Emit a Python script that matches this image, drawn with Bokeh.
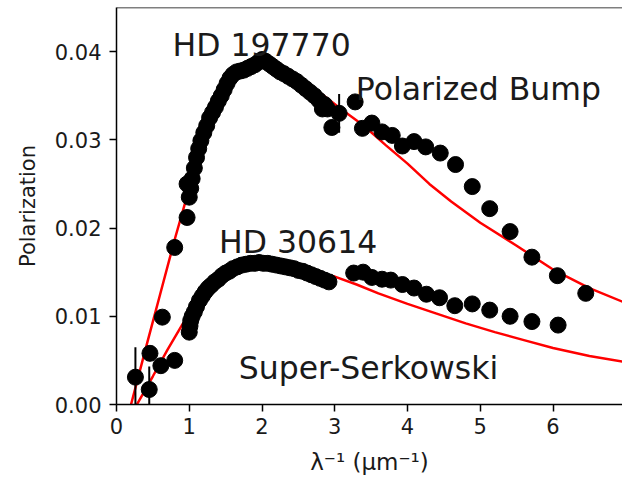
from bokeh.plotting import figure
from bokeh.models import Range1d, FixedTicker, NumeralTickFormatter, Span
from bokeh.core.properties import value
from bokeh.embed import file_html
from bokeh.resources import INLINE

# ---- data ----
# HD 197770 (upper star)
hd197_x = [0.26, 0.46, 0.63, 0.80, 0.97, 0.97, 1.00, 1.02, 1.04, 1.07, 1.10, 1.13, 1.16, 1.20, 1.24,
           1.28, 1.32, 1.36, 1.40, 1.44, 1.48, 1.52, 1.56, 1.60, 1.65, 1.70, 1.75, 1.80, 1.85,
           1.90, 1.95, 2.00, 2.05, 2.10, 2.15, 2.20, 2.25, 2.30, 2.36, 2.42, 2.48, 2.54, 2.60,
           2.66, 2.72, 2.78, 2.83, 2.86, 2.90, 2.96, 3.06, 3.28, 3.38, 3.51, 3.65, 3.79, 3.93,
           4.09, 4.25, 4.45, 4.66, 4.89, 5.13, 5.41, 5.71, 6.06, 6.45]
hd197_y = [0.0031, 0.0058, 0.0099, 0.0178, 0.0212, 0.0250, 0.0235, 0.0245, 0.0256, 0.0268, 0.0280,
           0.0290, 0.0299, 0.0308, 0.0316, 0.0325, 0.0331, 0.0337, 0.0344, 0.0350, 0.0357, 0.0364,
           0.0370, 0.0374, 0.0377, 0.0378, 0.0379, 0.0381, 0.0383, 0.0385, 0.0388, 0.0391, 0.0389,
           0.0386, 0.0383, 0.0380, 0.0377, 0.0375, 0.0372, 0.0369, 0.0366, 0.0362, 0.0358, 0.0354,
           0.0350, 0.0345, 0.0335, 0.0340, 0.0335, 0.0314, 0.0330, 0.0343, 0.0313, 0.0319, 0.0309,
           0.0305, 0.0293, 0.0298, 0.0292, 0.0285, 0.0272, 0.0247, 0.0222, 0.0196, 0.0167, 0.0146,
           0.0126]

# HD 30614 (lower star)
hd306_x = [0.45, 0.61, 0.80, 1.00, 1.01, 1.02, 1.04, 1.07, 1.10, 1.14, 1.18, 1.22, 1.26, 1.30, 1.35,
           1.40, 1.45, 1.50, 1.55, 1.60, 1.66, 1.72, 1.78, 1.84, 1.90, 1.96, 2.02, 2.08, 2.14,
           2.20, 2.26, 2.32, 2.38, 2.44, 2.50, 2.56, 2.62, 2.68, 2.74, 2.80, 2.86, 2.92, 3.26,
           3.39, 3.51, 3.65, 3.77, 3.93, 4.09, 4.26, 4.44, 4.65, 4.89, 5.13, 5.41, 5.71, 6.07]
hd306_y = [0.0017, 0.0044, 0.0050, 0.0082, 0.0089, 0.0095, 0.0100, 0.0105, 0.0111, 0.0118, 0.0123,
           0.0128, 0.0132, 0.0135, 0.0139, 0.0142, 0.0146, 0.0149, 0.0151, 0.0154, 0.0156, 0.0158,
           0.0159, 0.0160, 0.0160, 0.0161, 0.0160, 0.0160, 0.0159, 0.0158, 0.0157, 0.0156, 0.0155,
           0.0154, 0.0152, 0.0151, 0.0149, 0.0147, 0.0145, 0.0143, 0.0141, 0.0139, 0.0149, 0.0150,
           0.0144, 0.0142, 0.0141, 0.0136, 0.0132, 0.0125, 0.0121, 0.0112, 0.0114, 0.0107, 0.0100,
           0.0094, 0.0090]

# error bars (x, y, +/- err)
err_x = [0.26, 0.45, 3.06]
err_y = [0.0031, 0.0017, 0.0330]
err_e = [0.0034, 0.0026, 0.0022]

# model curves
model1_x = [0.2, 0.4, 0.6, 0.8, 1.0, 1.2, 1.4, 1.6, 1.8, 2.0, 2.2, 2.5, 2.8, 3.1, 3.4, 3.7, 4.0,
            4.3, 4.6, 5.0, 5.5, 6.0, 6.5, 7.0]
model1_y = [0.0, 0.0063, 0.0125, 0.0187, 0.0245, 0.0305, 0.0345, 0.0372, 0.0386, 0.0390, 0.0387,
            0.0373, 0.0353, 0.0334, 0.0316, 0.0294, 0.0273, 0.0250, 0.0230, 0.0206, 0.0180, 0.0153,
            0.0132, 0.0115]
model2_x = [0.28, 0.5, 0.7, 0.9, 1.1, 1.3, 1.5, 1.7, 1.9, 2.1, 2.4, 2.7, 3.0, 3.3, 3.6, 4.0, 4.4,
            4.8, 5.2, 5.6, 6.0, 6.5, 7.0]
model2_y = [0.0, 0.0032, 0.0062, 0.0090, 0.0113, 0.0132, 0.0145, 0.0153, 0.0157, 0.0157, 0.0154,
            0.0150, 0.0145, 0.0136, 0.0126, 0.0114, 0.0103, 0.0092, 0.0082, 0.0073, 0.0064, 0.0055,
            0.0048]

x_ticks = [0, 1, 2, 3, 4, 5, 6, 7]
y_ticks = [0.0, 0.01, 0.02, 0.03, 0.04]

labels = ["HD 197770", "Polarized Bump", "HD 30614", "Super-Serkowski"]
label_x = [0.77, 3.29, 1.41, 1.68]
label_y = [0.0407, 0.0358, 0.0184, 0.0041]

FONT = "DejaVu Sans"

p = figure(width=622, height=478, output_backend="svg", toolbar_location=None,
           x_range=Range1d(0, 6.955), y_range=Range1d(0, 0.045),
           min_border_left=116, min_border_right=0, min_border_top=7, min_border_bottom=74)
p.outline_line_color = None
p.grid.visible = False
p.background_fill_color = "white"
p.border_fill_color = "white"

p.line(model1_x, model1_y, line_color="red", line_width=2.5)
p.line(model2_x, model2_y, line_color="red", line_width=2.5)

x0 = err_x
y_lo = [max(y - e, 0) for y, e in zip(err_y, err_e)]
y_hi = [y + e for y, e in zip(err_y, err_e)]
p.segment(x0=x0, y0=y_lo, x1=x0, y1=y_hi, line_color="black", line_width=2)

p.scatter(hd197_x, hd197_y, size=16, color="black")
p.scatter(hd306_x, hd306_y, size=16, color="black")

p.text(x=label_x, y=label_y, text=labels, text_font=value(FONT), text_font_size="31.5px",
       text_color="#1a1a1a", text_baseline="alphabetic", text_align="left")

# top spine
p.add_layout(Span(location=0.045, dimension="width", line_color="black", line_width=1.5))

for ax in (p.xaxis[0], p.yaxis[0]):
    ax.axis_line_width = 1.5
    ax.major_tick_line_width = 1.5
    ax.major_tick_out = 7
    ax.major_tick_in = 0
    ax.minor_tick_line_color = None
    ax.major_label_text_font = FONT
    ax.major_label_text_font_size = "21px"
    ax.major_label_text_color = "#1a1a1a"
    ax.axis_label_text_font = FONT
    ax.axis_label_text_font_size = "21px"
    ax.axis_label_text_font_style = "normal"
    ax.axis_label_text_color = "#1a1a1a"

p.xaxis[0].ticker = FixedTicker(ticks=x_ticks)
p.yaxis[0].ticker = FixedTicker(ticks=y_ticks)
p.yaxis[0].formatter = NumeralTickFormatter(format="0.00")
p.xaxis[0].axis_label = "λ⁻¹ (μm⁻¹)"
p.xaxis[0].axis_label_text_font_size = "23px"
p.yaxis[0].axis_label = "Polarization"
p.xaxis[0].major_label_standoff = 6
p.yaxis[0].major_label_standoff = 8
p.xaxis[0].axis_label_standoff = 12
p.yaxis[0].axis_label_standoff = 12

open("out.html", "w").write(file_html(p, INLINE))
